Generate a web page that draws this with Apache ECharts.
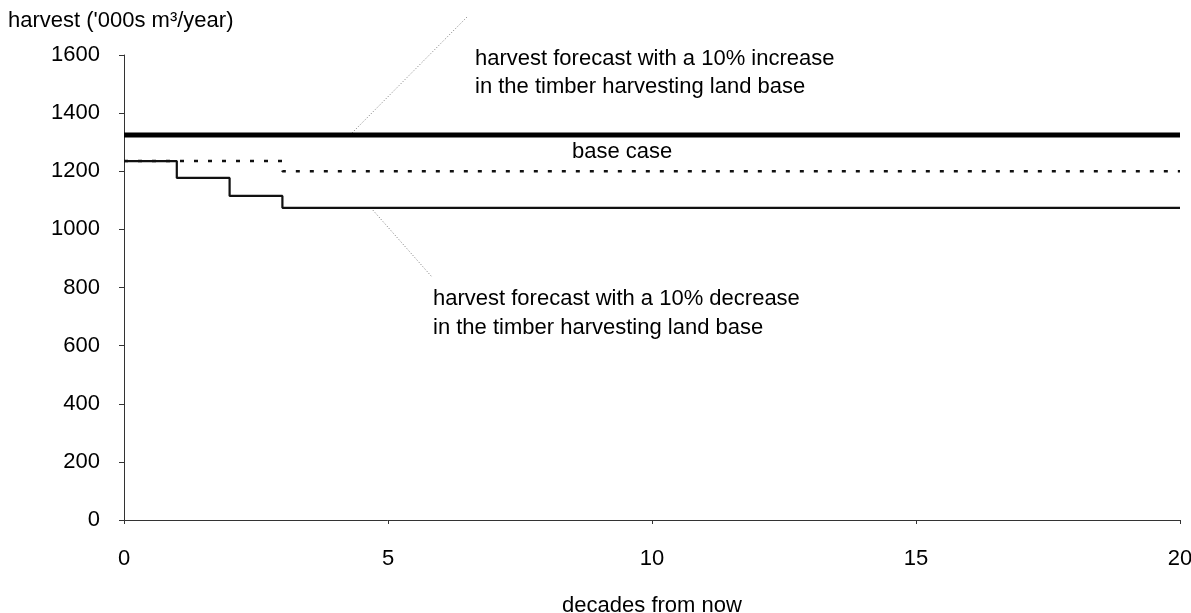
<!DOCTYPE html>
<html>
<head>
<meta charset="utf-8">
<script src="https://cdn.jsdelivr.net/npm/echarts@6/dist/echarts.min.js"></script>
<style>
html,body{margin:0;padding:0;background:#fff;}
#chart{width:1191px;height:613px;}
</style>
</head>
<body>
<div id="chart"></div>
<script>
// decades from now
var decades = [0,1,2,3,4,5,6,7,8,9,10,11,12,13,14,15,16,17,18,19,20];
// harvest ('000s m3/year), value held during each decade
var increase10 = [1325,1325,1325,1325,1325,1325,1325,1325,1325,1325,1325,1325,1325,1325,1325,1325,1325,1325,1325,1325,1325];
var baseCase   = [1235,1235,1235,1200,1200,1200,1200,1200,1200,1200,1200,1200,1200,1200,1200,1200,1200,1200,1200,1200,1200];
var decrease10 = [1235,1177,1115,1074,1074,1074,1074,1074,1074,1074,1074,1074,1074,1074,1074,1074,1074,1074,1074,1074,1074];
var yTicks = [0,200,400,600,800,1000,1200,1400,1600];
var xTicks = [0,5,10,15,20];

function pairs(xs, ys){ return xs.map(function(x,i){ return [x, ys[i]]; }); }

var FONT = 'Liberation Sans, Arial, sans-serif';
var FS = 22;

var chart = echarts.init(document.getElementById('chart'), null, {renderer:'canvas'});
var option = {
  animation: false,
  backgroundColor: '#fff',
  grid: {left:124, right:11, top:55, bottom:93, containLabel:false, outerBoundsMode:'none'},
  xAxis: {
    type:'value', min:0, max:20, interval:5,
    name:'decades from now', nameLocation:'middle', nameGap:75,
    nameTextStyle:{color:'#000', fontSize:FS, fontFamily:FONT},
    axisLine:{show:true, onZero:false, lineStyle:{color:'#333', width:1}},
    axisTick:{show:true, inside:false, length:4, lineStyle:{color:'#333'}},
    axisLabel:{color:'#000', fontSize:FS, fontFamily:FONT, margin:28,
      formatter:function(v){ return xTicks.indexOf(v) >= 0 ? String(v) : ''; }},
    splitLine:{show:false}
  },
  yAxis: {
    type:'value', min:0, max:1600, interval:200,
    axisLine:{show:true, lineStyle:{color:'#333', width:1}},
    axisTick:{show:true, inside:false, length:5, lineStyle:{color:'#333'}},
    axisLabel:{color:'#000', fontSize:FS, fontFamily:FONT, margin:24,
      formatter:function(v){ return yTicks.indexOf(v) >= 0 ? String(v) : ''; }},
    splitLine:{show:false}
  },
  series: [
    {name:'base case', type:'line', step:'end', showSymbol:false, symbol:'none',
     data: pairs(decades, baseCase),
     lineStyle:{color:'#111', width:2.5, type:[4,10]}, z:2},
    {name:'10% decrease', type:'line', step:'end', showSymbol:false, symbol:'none',
     data: pairs(decades, decrease10),
     lineStyle:{color:'#111', width:2.2}, z:3},
    {name:'10% increase', type:'line', step:'end', showSymbol:false, symbol:'none',
     data: pairs(decades, increase10),
     lineStyle:{color:'#000', width:5}, z:4}
  ],
  graphic: [
    {type:'text', left:8, top:10, style:{text:"harvest ('000s m\u00b3/year)", fill:'#000', font:FS+'px '+FONT}},
    {type:'text', left:475, top:45, style:{text:'harvest forecast with a 10% increase\nin the timber harvesting land base', fill:'#000', font:FS+'px '+FONT, lineHeight:28}},
    {type:'text', left:572, top:141, style:{text:'base case', fill:'#000', font:FS+'px '+FONT}},
    {type:'text', left:433, top:284, style:{text:'harvest forecast with a 10% decrease\nin the timber harvesting land base', fill:'#000', font:FS+'px '+FONT, lineHeight:29}},
    {type:'line', shape:{x1:352, y1:133, x2:468, y2:16}, style:{stroke:'#777', lineWidth:1, lineDash:[1,2]}},
    {type:'line', shape:{x1:371, y1:208, x2:432, y2:277}, style:{stroke:'#777', lineWidth:1, lineDash:[1,2]}}
  ]
};
chart.setOption(option);
</script>
</body>
</html>
